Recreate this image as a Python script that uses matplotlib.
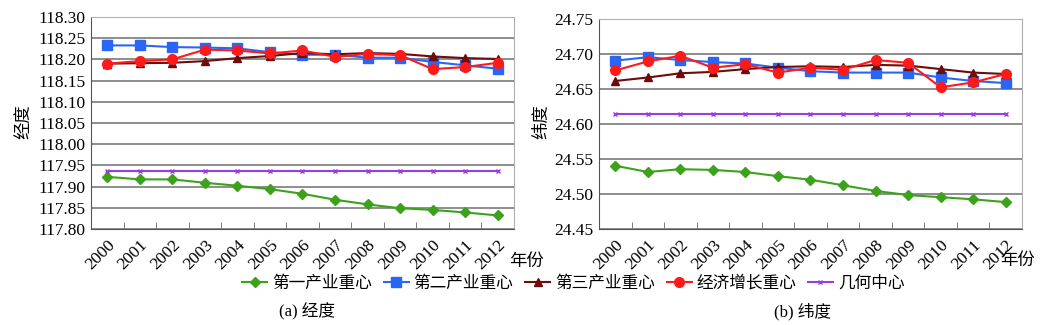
import matplotlib
matplotlib.use('Agg')

import numpy as np
import matplotlib.pyplot as plt

plt.rcParams['font.family'] = ['Liberation Serif', 'Noto Sans CJK SC']

years = ['2000', '2001', '2002', '2003', '2004', '2005', '2006',
         '2007', '2008', '2009', '2010', '2011', '2012']
names = ['第一产业重心', '第二产业重心', '第三产业重心', '经济增长重心', '几何中心']

# longitude (经度)
lon_first = [117.923, 117.917, 117.917, 117.909, 117.902, 117.894, 117.883,
             117.869, 117.858, 117.849, 117.845, 117.839, 117.832]
lon_second = [118.233, 118.233, 118.229, 118.228, 118.226, 118.217, 118.211,
              118.211, 118.204, 118.204, 118.194, 118.186, 118.178]
lon_third = [118.190, 118.191, 118.192, 118.196, 118.203, 118.208, 118.215,
             118.212, 118.215, 118.213, 118.207, 118.203, 118.201]
lon_econ = [118.190, 118.196, 118.200, 118.223, 118.221, 118.214, 118.221,
            118.206, 118.213, 118.210, 118.177, 118.182, 118.192]
lon_geo = [117.936] * 13

# latitude (纬度)
lat_first = [24.540, 24.531, 24.535, 24.534, 24.531, 24.525, 24.520,
             24.512, 24.504, 24.498, 24.495, 24.492, 24.488]
lat_second = [24.690, 24.695, 24.691, 24.688, 24.686, 24.680, 24.675,
              24.673, 24.673, 24.673, 24.666, 24.661, 24.658]
lat_third = [24.661, 24.666, 24.672, 24.674, 24.678, 24.681, 24.682,
             24.681, 24.684, 24.683, 24.678, 24.673, 24.671]
lat_econ = [24.676, 24.689, 24.697, 24.680, 24.685, 24.673, 24.680,
            24.677, 24.691, 24.687, 24.652, 24.659, 24.671]
lat_geo = [24.614] * 13

styles = [
    dict(color='#3ca21c', marker='D', ms=5, lw=1.5),
    dict(color='#2a66f5', marker='s', ms=6.5, lw=1.5),
    dict(color='#6e0b0b', marker='^', ms=6, lw=1.5),
    dict(color='#ff1a1a', marker='o', ms=7, lw=1.5),
    dict(color='#9a3de0', marker='x', ms=3, lw=1.5, mew=1),
]

fig = plt.figure(figsize=(10.54, 3.25), dpi=100)
ax1 = fig.add_axes([0.0863, 0.2954, 0.4014, 0.6523])
ax2 = fig.add_axes([0.5683, 0.2963, 0.4013, 0.6462])

x = np.arange(len(years))


def setup(ax, series, ylo, yhi, fmt):
    handles = []
    for s, st in zip(series, styles):
        h, = ax.plot(x, s, **st)
        handles.append(h)
    ax.set_xlim(-0.5, len(years) - 0.5)
    ax.set_ylim(ylo, yhi)
    yt = np.arange(ylo, yhi + 1e-9, 0.05)
    ax.set_yticks(yt)
    ax.set_yticklabels([fmt.format(v) for v in yt], fontsize=12.5)
    ax.yaxis.grid(True, color='#7a7a7a', lw=1.2)
    ax.set_axisbelow(True)
    ax.set_xticks(x)
    ax.set_xticklabels(years, rotation=45, ha='right', rotation_mode='anchor',
                       fontsize=12.5)
    ax.set_xticks(np.arange(-0.5, len(years)), minor=True)
    ax.tick_params(axis='x', which='major', length=0, pad=6)
    ax.tick_params(axis='x', which='minor', length=5, direction='in', color='#666666')
    ax.tick_params(axis='y', length=0, pad=4)
    for side in ['top', 'right']:
        ax.spines[side].set_color('#b0b0b0')
    for side in ['left', 'bottom']:
        ax.spines[side].set_color('#555555')
    return handles


handles = setup(ax1, [lon_first, lon_second, lon_third, lon_econ, lon_geo],
                117.80, 118.30, '{:.2f}')
setup(ax2, [lat_first, lat_second, lat_third, lat_econ, lat_geo],
      24.45, 24.75, '{:.2f}')

fig.text(0.023, 0.625, '经度', rotation=90, fontsize=12.5, ha='center', va='center')
fig.text(0.515, 0.625, '纬度', rotation=90, fontsize=12.5, ha='center', va='center')
fig.text(0.500, 0.195, '年份', fontsize=12.5, ha='center', va='center')
fig.text(0.965, 0.198, '年份', fontsize=12.5, ha='center', va='center')

fig.legend(handles, names, loc='center', bbox_to_anchor=(0.544, 0.127), ncol=5,
           frameon=False, fontsize=12, handlelength=1.5, handletextpad=0.3,
           columnspacing=0.7, borderpad=0)

fig.text(0.291, 0.04, '(a) 经度', fontsize=12, ha='center', va='center')
fig.text(0.761, 0.04, '(b) 纬度', fontsize=12, ha='center', va='center')

fig.savefig('out.png', dpi=100)
